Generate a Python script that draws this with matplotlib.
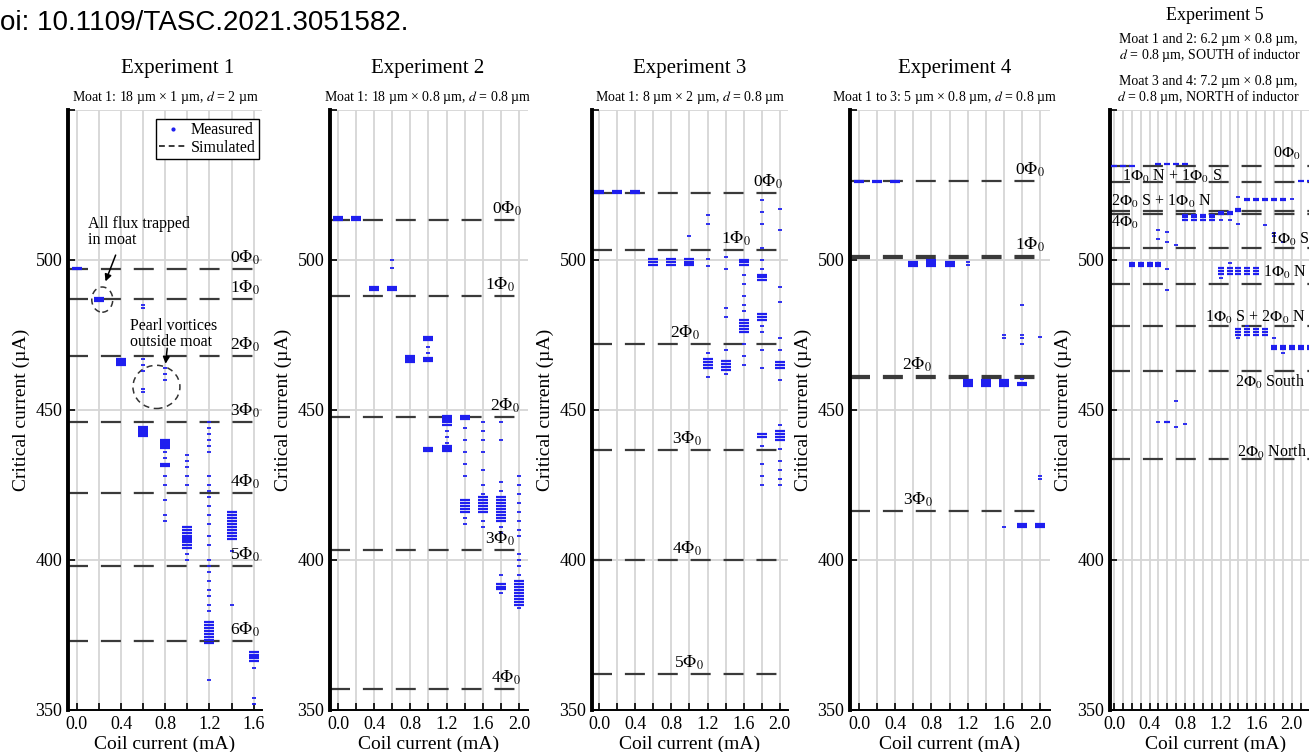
import matplotlib
matplotlib.use('Agg')
import matplotlib.pyplot as plt
from matplotlib.lines import Line2D
from matplotlib.patches import Ellipse

plt.rcParams['font.family'] = ['Liberation Serif', 'DejaVu Serif']
plt.rcParams['mathtext.fontset'] = 'stix'

# ---- data (critical current in uA, coil current in mA) ----
exp1_sim = [497, 487, 468, 446, 422.5, 398, 373]
exp1_sim_lab = ['0', '1', '2', '3', '4', '5', '6']
exp1_dense = {0.0: [497.5, 497], 0.2: [486.5, 487, 487.5],
              0.4: [465, 465.5, 466, 466.5, 467],
              0.6: [441.5, 442, 442.5, 443, 443.5, 444, 444.5],
              0.8: [437.5, 438, 438.5, 439, 439.5, 440, 431.5, 432],
              1.0: [404, 405, 406, 406.5, 407, 407.5, 408, 409, 410, 411],
              1.2: [372.5, 373.5, 374.5, 375.5, 376.5, 377.5, 378.5, 379.5],
              1.4: [407, 408, 409, 410, 411, 412, 413, 414, 415, 416],
              1.6: [366.5, 367.5, 368, 368.5, 369.5]}
exp1_sparse = {0.6: [485, 484, 467, 465, 463, 456, 457],
               0.8: [464, 462, 460, 436, 434, 428, 425, 420, 415, 413],
               1.0: [435, 433, 431, 428, 425, 402, 400],
               1.2: [446, 444, 442, 440, 438, 436, 428, 425, 423, 421, 418, 415,
                     412, 408, 405, 400, 398, 396, 393, 390, 388, 385, 383, 360],
               1.4: [403, 385],
               1.6: [364, 354, 352]}

exp2_sim = [513.5, 488, 447.8, 403.4, 357]
exp2_sim_lab = ['0', '1', '2', '3', '4']
exp2_dense = {0.0: [513.5, 514, 514.5], 0.2: [513.5, 514, 514.5],
              0.4: [490, 490.5, 491], 0.6: [490, 490.5, 491],
              0.8: [466, 466.5, 467, 467.5, 468],
              1.0: [466.5, 467, 467.5, 473.5, 474, 474.5, 436.5, 437, 437.5],
              1.2: [445, 446, 446.5, 447, 447.5, 448, 436.5, 437, 437.5, 438],
              1.4: [447, 447.5, 448, 416, 417, 418, 419, 420],
              1.6: [416, 417, 418, 419, 420, 421],
              1.8: [413, 414, 415, 416, 417, 418, 419, 420, 421, 390.5, 391, 392],
              2.0: [385, 386, 387, 388, 389, 390, 391, 392, 393]}
exp2_sparse = {0.6: [500, 497.5], 1.0: [471, 469], 1.2: [443, 441, 439],
               1.4: [444, 440, 436, 432, 428, 414, 412],
               1.6: [446, 443, 440, 436, 430, 425, 422, 413, 411],
               1.8: [446, 440, 426, 423, 411, 409, 395, 389],
               2.0: [428, 425, 422, 419, 416, 413, 410, 408, 402, 400, 398, 395, 384]}

exp3_sim = [522.3, 503.4, 472, 436.7, 400, 362]
exp3_sim_lab = ['0', '1', '2', '3', '4', '5']
exp3_dense = {0.0: [522.5, 523], 0.2: [522.5, 523], 0.4: [522.5, 523],
              0.6: [498.5, 499.5, 500.5], 0.8: [498.5, 499.5, 500.5],
              1.0: [498.5, 499, 499.5, 500.5],
              1.2: [464, 465, 466, 467], 1.4: [463.5, 464.5, 465.5, 466.5],
              1.6: [498.5, 499.5, 500, 476, 477, 478, 479, 480],
              1.8: [493.5, 494.5, 495, 480, 481, 482, 441, 442],
              2.0: [464, 465, 466, 440, 441, 442, 443]}
exp3_sparse = {1.0: [508], 1.2: [515, 512, 500.5, 498, 469, 461],
               1.4: [501, 497, 484, 481, 470, 462],
               1.6: [495, 492, 488, 485, 483, 472, 468, 465],
               1.8: [520, 516, 512, 504, 500, 497, 478, 476, 470, 464, 438, 432, 428, 425],
               2.0: [517, 510, 491, 486, 474, 470, 460, 445, 437, 433, 430, 427, 425]}

exp4_sim = [526.4, 501.4, 500.6, 461.4, 460.6, 416.3]
exp4_sim_lab = ['0', '1', '', '2', '', '3']
exp4_dense = {0.0: [526, 526.5], 0.2: [526, 526.5], 0.4: [526, 526.5],
              0.6: [498, 498.5, 499, 499.5], 0.8: [498, 498.5, 499, 499.5, 500],
              1.0: [498, 498.5, 499, 499.5],
              1.2: [458, 458.5, 459, 459.5, 460], 1.4: [458, 458.5, 459, 459.5, 460],
              1.6: [458, 458.5, 459, 459.5, 460],
              1.8: [458.5, 459, 411, 411.5, 412], 2.0: [411, 411.5, 412]}
exp4_sparse = {1.2: [499.5, 498.5], 1.6: [475, 474, 411],
               1.8: [485, 475, 474, 472, 460.5], 2.0: [474.5, 428, 427]}

exp5_sim = [531.3, 526.1, 516.4, 515.5, 504.1, 491.9, 478.1, 463.1, 433.7]
exp5_sim_lab = [r'0$\Phi_0$', r'1$\Phi_0$ N + 1$\Phi_0$ S', r'2$\Phi_0$ S + 1$\Phi_0$ N',
                r'4$\Phi_0$', r'1$\Phi_0$ S', r'1$\Phi_0$ N', r'1$\Phi_0$ S + 2$\Phi_0$ N',
                r'2$\Phi_0$ South', r'2$\Phi_0$ North']
exp5_dense = {0.0: [531.3], 0.1: [531.3], 0.2: [531.3, 498, 498.5, 499],
              0.3: [498, 498.5, 499], 0.4: [498, 498.5, 499],
              0.5: [532, 498, 498.5, 499], 0.6: [532, 446], 0.7: [532],
              0.8: [532, 513.5, 514.5, 515], 0.9: [513.5, 514.5, 515],
              1.0: [513.5, 514.5, 515], 1.1: [513.5, 514.5, 515],
              1.2: [515.5, 516, 495.5, 496.5, 497.5], 1.3: [515.5, 516, 495.5, 496.5, 497.5],
              1.4: [516.5, 517, 495.5, 496.5, 497.5, 475, 476, 477],
              1.5: [520, 520.5, 495.5, 496.5, 497.5, 475, 476, 477],
              1.6: [520, 520.5, 495.5, 496.5, 497.5, 475, 476, 477],
              1.7: [520, 520.5, 475, 476, 477],
              1.8: [520, 520.5, 470.5, 471, 471.5], 1.9: [520, 520.5, 470.5, 471, 471.5],
              2.0: [470.5, 471, 471.5], 2.1: [526.5, 470.5, 471, 471.5],
              2.2: [526.5, 470.5, 471, 471.5]}
exp5_sparse = {0.5: [510, 507, 446], 0.6: [509.5, 506, 497, 490], 0.7: [505, 453, 444.5],
               0.8: [445.5], 1.2: [513.5, 494], 1.3: [513.5, 499], 1.4: [521, 512, 474],
               1.5: [478], 1.7: [511.7], 1.8: [509, 508, 474], 1.9: [506, 469],
               2.0: [520.5]}

BLUE = '#1f1fef'
W, H = 1309, 752
fig = plt.figure(figsize=(W / 100, H / 100), dpi=100)


def make_ax(left, right, xlim, minor):
    ax = fig.add_axes([left / W, 1 - 710 / H, (right - left) / W, 600 / H])
    ax.set_xlim(*xlim)
    ax.set_ylim(350, 550)
    ax.set_xticks([0.0, 0.4, 0.8, 1.2, 1.6, 2.0] if xlim[1] > 2 else [0.0, 0.4, 0.8, 1.2, 1.6])
    ax.set_xticks([i * minor for i in range(int(xlim[1] / minor) + 1)], minor=True)
    ax.set_yticks([350, 400, 450, 500, 550])
    ax.set_yticklabels(['350', '400', '450', '500', ''])
    ax.xaxis.grid(True, which='both', color='#d6d6d6', lw=1.3, zorder=0)
    ax.yaxis.grid(True, which='major', color='#d6d6d6', lw=1.3, zorder=0)
    ax.set_axisbelow(True)
    for s in ['top', 'right']:
        ax.spines[s].set_visible(False)
    ax.spines['left'].set_linewidth(2.8)
    ax.spines['bottom'].set_linewidth(1.4)
    ax.tick_params(which='both', direction='in', length=5, width=1.2, labelsize=13, pad=4)
    ax.set_xlabel('Coil current (mA)', fontsize=14, labelpad=2)
    ax.set_ylabel('Critical current (µA)', fontsize=14, labelpad=4)
    return ax


def draw_data(ax, sim, xend, dense, sparse, ms=7):
    x0 = ax.get_xlim()[0]
    for lvl in sim:
        ax.plot([x0, xend], [lvl, lvl], color='#3a3a3a', lw=1.6,
                linestyle=(0, (9, 5.8)), zorder=2)
    for x, ys in dense.items():
        ax.plot([x] * len(ys), ys, ls='none', marker='_', ms=ms, mew=1.6, color=BLUE, zorder=3)
    for x, ys in sparse.items():
        ax.plot([x] * len(ys), ys, ls='none', marker='_', ms=3.5, mew=1.3, color=BLUE, zorder=3)


def phi_labels(ax, sim, labs, xs):
    for lvl, lab, x in zip(sim, labs, xs):
        if lab:
            ax.text(x, lvl + 0.6, lab + r'$\Phi_0$', ha='center', va='bottom', fontsize=12.5)


# Experiment 1
ax1 = make_ax(68, 262, (-0.08, 1.675), 0.2)
draw_data(ax1, exp1_sim, 1.6, exp1_dense, exp1_sparse)
phi_labels(ax1, exp1_sim, exp1_sim_lab, [1.52] * 7)
ax1.text(0.1, 514.5, 'All flux trapped\nin moat', fontsize=11.5, va='top', ha='left', linespacing=1.0)
ax1.annotate('', xy=(0.25, 492), xytext=(0.36, 502.5),
             arrowprops=dict(arrowstyle='-|>', color='k', lw=1.1, mutation_scale=10))
ax1.add_patch(Ellipse((0.23, 486.8), 0.19, 8.4, fill=False, ls=(0, (4, 3)), lw=1.1, ec='#333333'))
ax1.text(0.48, 480.5, 'Pearl vortices\noutside moat', fontsize=11.5, va='top', ha='left', linespacing=1.0)
ax1.annotate('', xy=(0.80, 464.5), xytext=(0.82, 471.5),
             arrowprops=dict(arrowstyle='-|>', color='k', lw=1.1, mutation_scale=10))
ax1.add_patch(Ellipse((0.72, 457.7), 0.425, 14.4, fill=False, ls=(0, (4, 3)), lw=1.1, ec='#333333'))
handles = [Line2D([], [], ls='none', marker='.', ms=4, color=BLUE),
           Line2D([], [], color='#3a3a3a', lw=1.4, ls=(0, (3, 2)))]
leg = ax1.legend(handles, ['Measured', 'Simulated'], loc='upper right', fontsize=11.5,
                 fancybox=False, framealpha=1, edgecolor='k', handlelength=1.8,
                 handletextpad=0.2, borderpad=0.2, labelspacing=0.1, borderaxespad=0.2,
                 bbox_to_anchor=(1.0, 0.99))
leg.get_frame().set_linewidth(1.0)

# Experiment 2
ax2 = make_ax(330, 528, (-0.088, 2.1), 0.2)
draw_data(ax2, exp2_sim, 2.0, exp2_dense, exp2_sparse)
phi_labels(ax2, exp2_sim, exp2_sim_lab, [1.87, 1.79, 1.85, 1.79, 1.86])

# Experiment 3
ax3 = make_ax(592, 788, (-0.077, 2.09), 0.2)
draw_data(ax3, exp3_sim, 2.0, exp3_dense, exp3_sparse)
phi_labels(ax3, exp3_sim, exp3_sim_lab, [1.87, 1.52, 0.95, 0.97, 0.97, 1.0])

# Experiment 4
ax4 = make_ax(850, 1050, (-0.1, 2.11), 0.2)
draw_data(ax4, exp4_sim, 2.0, exp4_dense, exp4_sparse)
phi_labels(ax4, exp4_sim, exp4_sim_lab, [1.89, 1.89, 0, 0.64, 0, 0.65])

# Experiment 5 (cut at the right edge of the page)
ax5 = make_ax(1110, 1322, (-0.045, 2.34), 0.1)
draw_data(ax5, exp5_sim, 2.3, exp5_dense, exp5_sparse, ms=5)
lab5_pos = [(1.94, 535.5, 'center'), (0.09, 527.8, 'left'), (-0.03, 519.4, 'left'),
            (-0.03, 512.5, 'left'), (1.74, 506.7, 'left'), (1.68, 495.7, 'left'),
            (1.02, 481, 'left'), (1.36, 459.4, 'left'), (1.38, 436, 'left')]
for (x, y, ha), lab in zip(lab5_pos, exp5_sim_lab):
    ax5.text(x, y, lab, ha=ha, va='center', fontsize=11.5)

# titles
for cx, t in [(178, 'Experiment 1'), (428, 'Experiment 2'), (690, 'Experiment 3'), (955, 'Experiment 4')]:
    fig.text(cx / W, 1 - 68 / H, t, ha='center', va='center', fontsize=15)
subs = [(165, r'Moat 1: 18 µm × 1 µm, $d$ = 2 µm'),
        (428, r'Moat 1: 18 µm × 0.8 µm, $d$ = 0.8 µm'),
        (690, r'Moat 1: 8 µm × 2 µm, $d$ = 0.8 µm'),
        (945, r'Moat 1 to 3: 5 µm × 0.8 µm, $d$ = 0.8 µm')]
for cx, t in subs:
    fig.text(cx / W, 1 - 97 / H, t, ha='center', va='center', fontsize=10)
fig.text(1215 / W, 1 - 15 / H, 'Experiment 5', ha='center', va='center', fontsize=13)
fig.text(1208 / W, 1 - 49 / H, 'Moat 1 and 2: 6.2 µm × 0.8 µm,\n' + r' $d$ = 0.8 µm, SOUTH of inductor',
         ha='center', va='center', fontsize=10, linespacing=1.0)
fig.text(1208 / W, 1 - 91 / H, 'Moat 3 and 4: 7.2 µm × 0.8 µm,\n' + r'$d$ = 0.8 µm, NORTH of inductor',
         ha='center', va='center', fontsize=10, linespacing=1.0)

fig.text(0 / W, 1 - 23 / H, 'oi: 10.1109/TASC.2021.3051582.', ha='left', va='center',
         fontsize=20, family='Liberation Sans')

fig.savefig('out.png', dpi=100)
